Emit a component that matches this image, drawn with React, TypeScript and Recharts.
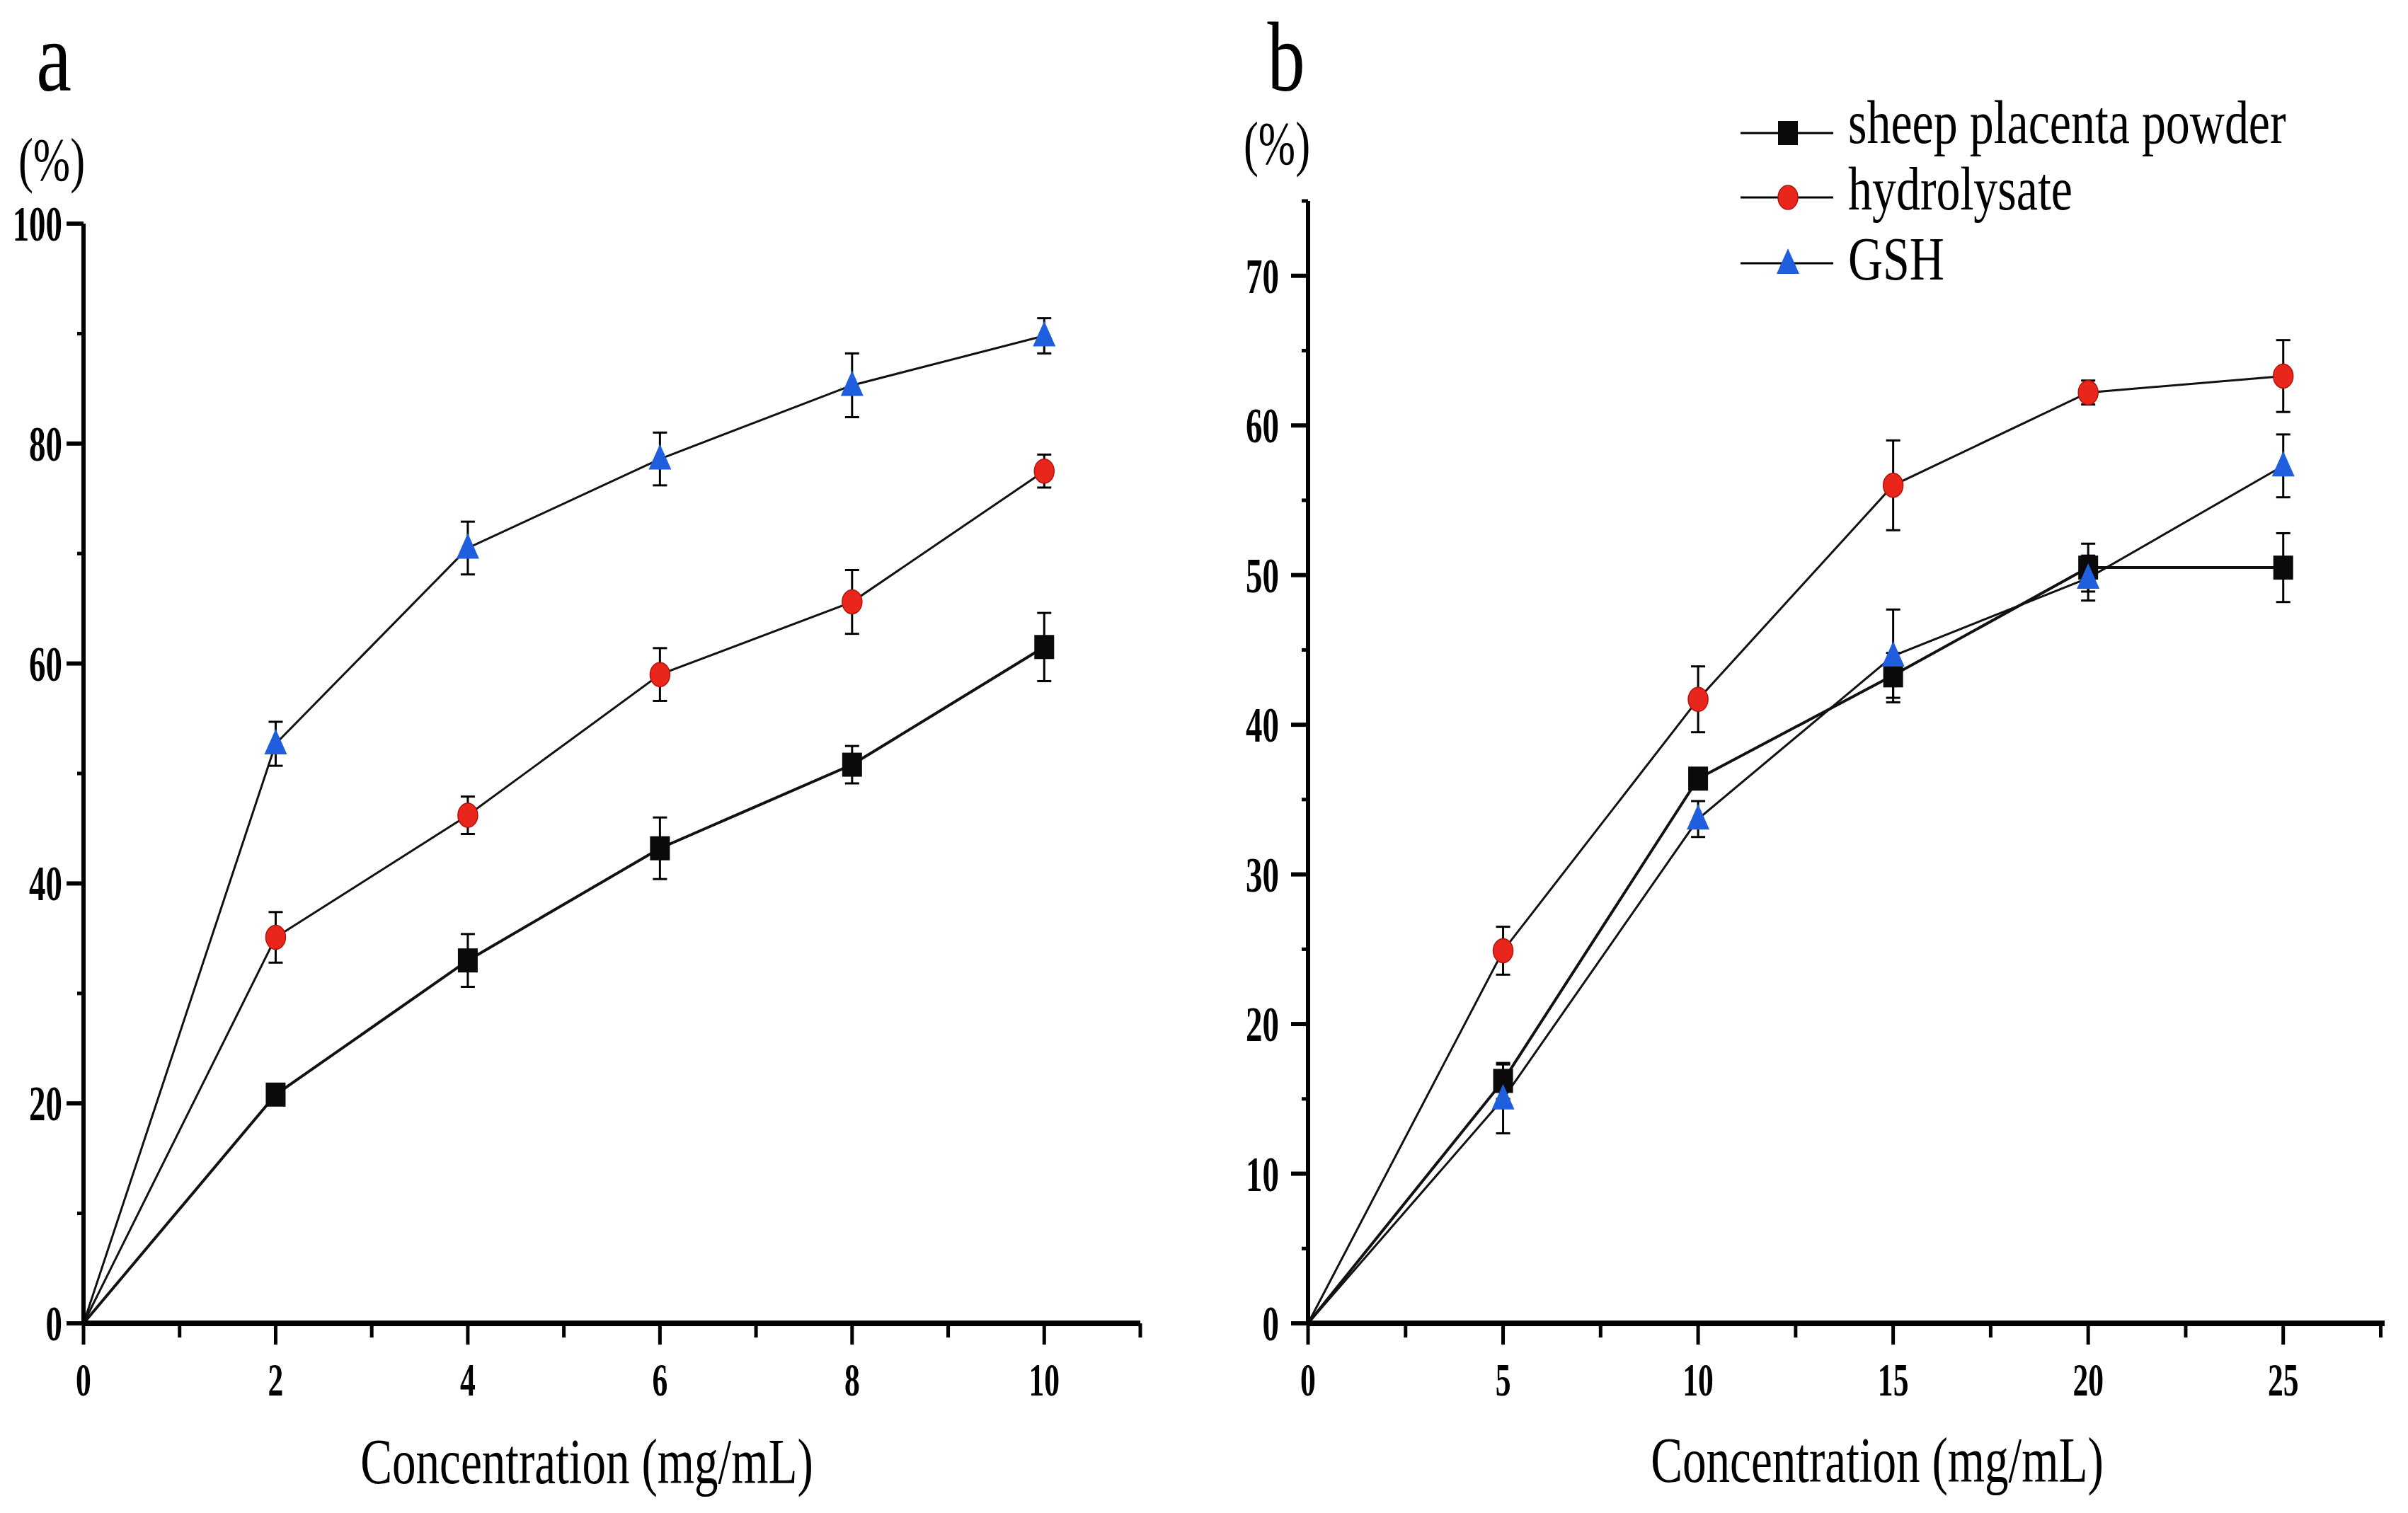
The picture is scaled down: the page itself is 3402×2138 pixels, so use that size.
import React from 'react';
import { LineChart, Line, XAxis, YAxis, ErrorBar, Legend } from 'recharts';

// ---------- data (panel a) ----------
const xA = [0, 2, 4, 6, 8, 10];
const sheepA = [0, 20.8, 33.0, 43.2, 50.8, 61.5];
const sheepAErr = [0, 0.8, 2.4, 2.8, 1.7, 3.1];
const hydroA = [0, 35.1, 46.2, 59.0, 65.6, 77.5];
const hydroAErr = [0, 2.3, 1.7, 2.4, 2.9, 1.5];
const gshA = [0, 52.7, 70.5, 78.6, 85.3, 89.8];
const gshAErr = [0, 2.0, 2.4, 2.4, 2.9, 1.6];

// ---------- data (panel b) ----------
const xB = [0, 5, 10, 15, 20, 25];
const sheepB = [0, 16.2, 36.4, 43.3, 50.5, 50.5];
const sheepBErr = [0, 1.2, 0.6, 1.5, 1.6, 2.3];
const hydroB = [0, 24.9, 41.7, 56.0, 62.2, 63.3];
const hydroBErr = [0, 1.6, 2.2, 3.0, 0.8, 2.4];
const gshB = [0, 15.0, 33.7, 44.6, 49.8, 57.3];
const gshBErr = [0, 2.3, 1.2, 3.1, 1.5, 2.1];

// ---------- ticks ----------
const xTicksA = [0, 1, 2, 3, 4, 5, 6, 7, 8, 9, 10, 11];
const yTicksA = [0, 10, 20, 30, 40, 50, 60, 70, 80, 90, 100];
const xTicksB = [0, 2.5, 5, 7.5, 10, 12.5, 15, 17.5, 20, 22.5, 25, 27.5];
const yTicksB = [0, 5, 10, 15, 20, 25, 30, 35, 40, 45, 50, 55, 60, 65, 70, 75];

const legendNames = ['sheep placenta powder', 'hydrolysate', 'GSH'];
const legendShapes = ['square', 'circle', 'triangle'];

const FONT = "'Liberation Serif', 'Times New Roman', serif";

const rows = (xs: number[], ys: number[], es: number[]) =>
  xs.map((x, i) => ({ x, v: ys[i], e: es[i] }));

function CondText({ x, y, size, sx, anchor = 'middle', weight = 400, children }: any) {
  return (
    <text
      transform={`translate(${x},${y}) scale(${sx},1)`}
      textAnchor={anchor}
      fontFamily={FONT}
      fontSize={size}
      fontWeight={weight}
      fill="#000"
    >
      {children}
    </text>
  );
}

function Marker({ shape, cx, cy }: any) {
  if (shape === 'square')
    return <rect x={cx - 14} y={cy - 17} width={28} height={34} fill="#0a0a0a" />;
  if (shape === 'circle')
    return <ellipse cx={cx} cy={cy} rx={14} ry={17} fill="#e8261c" stroke="#b3140e" strokeWidth={1.5} />;
  return <polygon points={`${cx},${cy - 21} ${cx - 16},${cy + 15} ${cx + 16},${cy + 15}`} fill="#1f5fde" />;
}

const dotFor = (shape: string) => (p: any) =>
  p.index === 0 ? (
    <g key={`d${p.index}`} />
  ) : (
    <g key={`d${p.index}`}>
      <Marker shape={shape} cx={p.cx} cy={p.cy} />
    </g>
  );

function XTick(props: any) {
  const { x, y, payload, major } = props;
  const v = payload.value;
  const isMajor = Math.abs(v / major - Math.round(v / major)) < 1e-6;
  return (
    <g>
      <line x1={x} x2={x} y1={y} y2={y + (isMajor ? 30 : 20)} stroke="#000" strokeWidth={5} />
      {isMajor && (
        <CondText x={x} y={y + 102} size={66} sx={0.66} weight={700}>
          {v}
        </CondText>
      )}
    </g>
  );
}

function YTick(props: any) {
  const { x, y, payload, major, gap, maxLabel } = props;
  const v = payload.value;
  const isMajor = Math.abs(v / major - Math.round(v / major)) < 1e-6 && v <= maxLabel;
  return (
    <g>
      <line x1={x} x2={x - (isMajor ? 24 : 9)} y1={y} y2={y} stroke="#000" strokeWidth={isMajor ? 6 : 5} />
      {isMajor && (
        <CondText x={x - gap} y={y + 24} size={70} sx={0.67} anchor="end" weight={700}>
          {v}
        </CondText>
      )}
    </g>
  );
}

const legendLineY = [78, 169, 262];
const legendBase = [92, 186, 285];

function LegendBox() {
  return (
    <svg width={900} height={330}>
      {legendNames.map((n, i) => {
        const cy = legendLineY[i];
        return (
          <g key={n}>
            <line x1={19} x2={150} y1={cy} y2={cy} stroke="#000" strokeWidth={3} />
            <Marker shape={legendShapes[i]} cx={86} cy={cy} />
            <CondText x={171} y={legendBase[i]} size={86} sx={0.79} anchor="start">
              {n}
            </CondText>
          </g>
        );
      })}
    </svg>
  );
}

export default function App() {
  const H = 2138;
  return (
    <div style={{ position: 'absolute', left: 0, top: 0, width: 3402, height: H, background: '#fff' }}>
      <div style={{ position: 'absolute', left: 0, top: 0 }}>
        <LineChart width={1700} height={H} margin={{ top: 316, right: 89, left: 0, bottom: 0 }}>
          <XAxis
            type="number"
            dataKey="x"
            domain={[0, 11]}
            ticks={xTicksA}
            interval={0}
            height={268}
            tickSize={0}
            tickMargin={0}
            tickLine={false}
            axisLine={{ stroke: '#000', strokeWidth: 8 }}
            tick={<XTick major={2} />}
          />
          <YAxis
            type="number"
            domain={[0, 100]}
            ticks={yTicksA}
            interval={0}
            width={118}
            tickSize={0}
            tickMargin={0}
            tickLine={false}
            axisLine={{ stroke: '#000', strokeWidth: 6 }}
            tick={<YTick major={20} gap={30} maxLabel={100} />}
          />
          <Line data={rows(xA, sheepA, sheepAErr)} dataKey="v" stroke="#111" strokeWidth={4} dot={dotFor('square')} isAnimationActive={false} name="sheep placenta powder">
            <ErrorBar dataKey="e" direction="y" width={10} stroke="#000" strokeWidth={3} />
          </Line>
          <Line data={rows(xA, hydroA, hydroAErr)} dataKey="v" stroke="#111" strokeWidth={3} dot={dotFor('circle')} isAnimationActive={false} name="hydrolysate">
            <ErrorBar dataKey="e" direction="y" width={10} stroke="#000" strokeWidth={3} />
          </Line>
          <Line data={rows(xA, gshA, gshAErr)} dataKey="v" stroke="#111" strokeWidth={3} dot={dotFor('triangle')} isAnimationActive={false} name="GSH">
            <ErrorBar dataKey="e" direction="y" width={10} stroke="#000" strokeWidth={3} />
          </Line>
        </LineChart>
      </div>
      <div style={{ position: 'absolute', left: 1700, top: 0 }}>
        <LineChart width={1702} height={H} margin={{ top: 284, right: 33, left: 0, bottom: 0 }}>
          <XAxis
            type="number"
            dataKey="x"
            domain={[0, 27.6]}
            ticks={xTicksB}
            interval={0}
            height={268}
            tickSize={0}
            tickMargin={0}
            tickLine={false}
            axisLine={{ stroke: '#000', strokeWidth: 8 }}
            tick={<XTick major={5} />}
          />
          <YAxis
            type="number"
            domain={[0, 75]}
            ticks={yTicksB}
            interval={0}
            width={148}
            tickSize={0}
            tickMargin={0}
            tickLine={false}
            axisLine={{ stroke: '#000', strokeWidth: 6 }}
            tick={<YTick major={10} gap={41} maxLabel={70} />}
          />
          <Legend
            layout="vertical"
            align="center"
            verticalAlign="middle"
            wrapperStyle={{ left: 740, top: 110, width: 900, height: 330 }}
            content={() => <LegendBox />}
          />
          <Line data={rows(xB, sheepB, sheepBErr)} dataKey="v" stroke="#111" strokeWidth={4} dot={dotFor('square')} isAnimationActive={false} name="sheep placenta powder">
            <ErrorBar dataKey="e" direction="y" width={10} stroke="#000" strokeWidth={3} />
          </Line>
          <Line data={rows(xB, hydroB, hydroBErr)} dataKey="v" stroke="#111" strokeWidth={3} dot={dotFor('circle')} isAnimationActive={false} name="hydrolysate">
            <ErrorBar dataKey="e" direction="y" width={10} stroke="#000" strokeWidth={3} />
          </Line>
          <Line data={rows(xB, gshB, gshBErr)} dataKey="v" stroke="#111" strokeWidth={3} dot={dotFor('triangle')} isAnimationActive={false} name="GSH">
            <ErrorBar dataKey="e" direction="y" width={10} stroke="#000" strokeWidth={3} />
          </Line>
        </LineChart>
      </div>
      <svg
        width={3402}
        height={H}
        style={{ position: 'absolute', left: 0, top: 0, pointerEvents: 'none' }}
      >
        <CondText x={76} y={128} size={140} sx={0.8}>a</CondText>
        <CondText x={1817} y={128} size={140} sx={0.76}>b</CondText>
        <CondText x={73} y={255} size={86} sx={0.73}>(%)</CondText>
        <CondText x={1804} y={232} size={86} sx={0.73}>(%)</CondText>
        <CondText x={829} y={2096} size={92} sx={0.73}>Concentration (mg/mL)</CondText>
        <CondText x={2652} y={2094} size={92} sx={0.73}>Concentration (mg/mL)</CondText>
      </svg>
    </div>
  );
}
